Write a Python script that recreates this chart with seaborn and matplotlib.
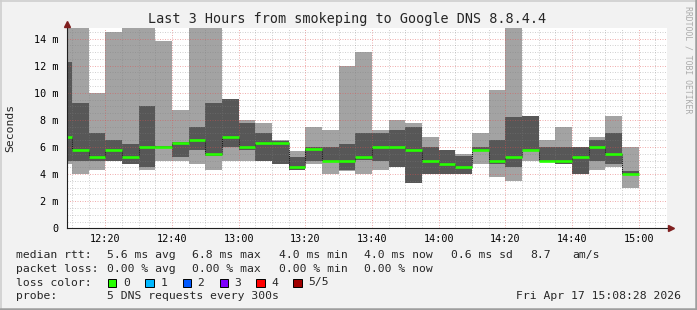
import numpy as np
import pandas as pd
import matplotlib
matplotlib.use("Agg")
import matplotlib.pyplot as plt
import seaborn as sns
from matplotlib.ticker import MultipleLocator, FuncFormatter
from matplotlib.patches import Rectangle
from matplotlib.lines import Line2D

# ---------------- data (milliseconds) ----------------
bar_end_times = ["12:10", "12:15", "12:20", "12:25", "12:30", "12:35", "12:40",
                 "12:45", "12:50", "12:55", "13:00", "13:05", "13:10", "13:15",
                 "13:20", "13:25", "13:30", "13:35", "13:40", "13:45", "13:50",
                 "13:55", "14:00", "14:05", "14:10", "14:15", "14:20", "14:25",
                 "14:30", "14:35", "14:40", "14:45", "14:50", "14:55", "15:00"]
ping_min = [4.76, 4.02, 4.27, 4.95, 4.75, 4.27, 5.00, 4.99, 4.76, 4.27, 5.00, 5.00,
            4.95, 4.75, 4.28, 4.76, 4.02, 4.25, 4.02, 4.27, 4.54, 3.31, 4.00, 4.00,
            4.00, 4.76, 3.75, 3.50, 5.00, 4.93, 4.75, 3.98, 4.27, 4.56, 3.01]
ping_low = [5.00, 5.00, 5.00, 5.00, 4.77, 4.56, 5.95, 5.27, 5.79, 5.37, 6.01, 5.79,
            5.00, 4.77, 4.30, 5.00, 4.95, 4.27, 5.05, 5.00, 4.56, 3.33, 4.02, 4.02,
            4.02, 5.78, 4.76, 4.56, 5.79, 4.95, 4.76, 4.02, 5.00, 4.76, 3.98]
ping_median = [6.77, 5.80, 5.27, 5.80, 5.27, 6.01, 6.02, 6.26, 6.55, 5.52, 6.75, 6.01,
               6.26, 6.33, 4.56, 5.84, 5.00, 5.00, 5.28, 6.01, 6.01, 5.81, 5.00, 4.76,
               4.55, 5.81, 5.00, 5.27, 5.81, 5.00, 5.00, 5.27, 6.01, 5.52, 4.04]
ping_high = [12.28, 9.24, 7.05, 6.52, 6.22, 9.01, 6.06, 6.34, 7.48, 9.24, 9.53, 7.80,
             7.03, 6.42, 5.25, 6.00, 6.00, 6.23, 7.05, 7.05, 7.24, 7.49, 6.01, 5.77,
             5.30, 6.01, 6.53, 8.23, 8.27, 6.01, 6.01, 6.01, 6.51, 7.04, 4.20]
ping_max = [15.5, 15.5, 10.00, 14.49, 15.5, 15.5, 13.83, 8.72, 15.5, 15.5, 9.53, 8.00,
            7.75, 6.52, 5.71, 7.49, 7.25, 12.00, 13.02, 7.25, 7.98, 7.78, 6.75, 5.79,
            5.50, 7.05, 10.19, 15.5, 8.28, 6.51, 7.49, 6.02, 6.75, 8.28, 6.01]

y_tick_values = [0, 2, 4, 6, 8, 10, 12, 14]
x_tick_labels = ["12:20", "12:40", "13:00", "13:20", "13:40", "14:00", "14:20", "14:40", "15:00"]

title = "Last 3 Hours from smokeping to Google DNS 8.8.4.4"
legend_rtt = ["median rtt:", "5.6 ms avg", "6.8 ms max", "4.0 ms min", "4.0 ms now", "0.6 ms sd", "8.7", "am/s"]
legend_loss = ["packet loss:", "0.00 % avg", "0.00 % max", "0.00 % min", "0.00 % now"]
loss_labels = ["0", "1", "2", "3", "4", "5/5"]
loss_colors = ["#26ff00", "#00b8ff", "#0059ff", "#7e00ff", "#ff0000", "#a00000"]
probe_text = "5 DNS requests every 300s"
stamp_text = "Fri Apr 17 15:08:28 2026"
start_time, end_time = "12:08:28", "15:08:28"

# ---------------- helpers ----------------
def to_min(s):
    parts = [int(p) for p in s.split(":")]
    while len(parts) < 3:
        parts.append(0)
    return parts[0] * 60 + parts[1] + parts[2] / 60.0

df = pd.DataFrame({
    "end": [to_min(s) for s in bar_end_times],
    "pmin": ping_min, "plow": ping_low, "pmed": ping_median,
    "phigh": ping_high, "pmax": ping_max,
})
df["start"] = df["end"] - 5

W, H = 697, 310
LIGHT = "#a3a3a3"
DARK = "#575757"
GREEN = "#26ff00"
MONO = ["DejaVu Sans Mono"]

sns.set_theme(style="white")
plt.rcParams["font.family"] = MONO

fig = plt.figure(figsize=(W / 100, H / 100), dpi=100, facecolor="#f2f2f2")
ax_left, ax_right, ax_top, ax_bottom = 67, 667, 28, 228.3
ax = fig.add_axes([ax_left / W, (H - ax_bottom) / H, (ax_right - ax_left) / W, (ax_bottom - ax_top) / H])
ax.set_facecolor("white")

# smoke
ax.bar(df["start"], df["pmax"] - df["pmin"], bottom=df["pmin"], width=5, align="edge",
       color=LIGHT, linewidth=0, antialiased=False, zorder=1)
ax.bar(df["start"], df["phigh"] - df["plow"], bottom=df["plow"], width=5, align="edge",
       color=DARK, linewidth=0, antialiased=False, zorder=1.1)

# median: dotted dark connectors + green steps
conn = pd.DataFrame({"x": df["end"].iloc[:-1].values,
                     "y0": df["pmed"].iloc[:-1].values,
                     "y1": df["pmed"].iloc[1:].values})
ax.vlines(conn["x"], conn["y0"], conn["y1"], colors="#1a1a1a",
          linestyles=(0, (1, 1)), linewidth=0.75, zorder=3)
ax.hlines(df["pmed"], df["start"], df["end"], colors=GREEN, linewidth=1.9, zorder=4)

t0, t1 = to_min(start_time), to_min(end_time)
ax.set_xlim(t0, t1)
ax.set_ylim(0, (ax_bottom - ax_top) / 13.55)

ax.xaxis.set_major_locator(MultipleLocator(20))
ax.xaxis.set_minor_locator(MultipleLocator(5))
ax.yaxis.set_major_locator(MultipleLocator(2))
ax.yaxis.set_minor_locator(MultipleLocator(0.5))
ax.xaxis.set_major_formatter(FuncFormatter(lambda v, p: f"{int(v // 60):02d}:{int(round(v % 60)):02d}"))
ax.yaxis.set_major_formatter(FuncFormatter(lambda v, p: "0" if abs(v) < 1e-9 else f"{int(round(v))} m"))

ax.set_xticks([to_min(s) for s in x_tick_labels])
ax.set_yticks(y_tick_values)

ax.set_axisbelow(False)
ax.grid(which="minor", color=(0.5, 0.5, 0.5), alpha=0.35, linestyle=(0, (1, 1.5)), linewidth=0.72)
ax.grid(which="major", color=(0.87, 0.31, 0.31), alpha=0.45, linestyle=(0, (1, 1.5)), linewidth=0.72)
for tk in (ax.xaxis.get_minor_ticks() + ax.yaxis.get_minor_ticks()
           + ax.xaxis.get_major_ticks() + ax.yaxis.get_major_ticks()):
    tk.gridline.set_zorder(2.5)

for s in ["top", "right"]:
    ax.spines[s].set_visible(False)
for s in ["left", "bottom"]:
    ax.spines[s].set_color("#1f1f1f")
    ax.spines[s].set_linewidth(0.8)
    ax.spines[s].set_zorder(5)

ax.tick_params(which="major", direction="out", length=2.2, width=0.7, color="#1f1f1f",
               labelsize=7.3, labelcolor="black")
ax.tick_params(which="minor", direction="out", length=1.5, width=0.6, color="#555555")
ax.tick_params(axis="y", which="major", pad=4.0)
ax.tick_params(axis="x", which="major", pad=1.6)

# arrows on axes
ax.plot([1.006], [0], marker=">", markersize=4.2, color="#801f1f", transform=ax.transAxes,
        clip_on=False, zorder=6)
ax.plot([0], [1.022], marker="^", markersize=4.2, color="#801f1f", transform=ax.transAxes,
        clip_on=False, zorder=6)

def fx(px):
    return px / W

def fy(py):
    return 1 - py / H

# title & labels
fig.text(fx(347.5), fy(19.3), title, ha="center", va="center", fontsize=9.75, family=MONO)
fig.text(fx(10), fy(128), "Seconds", rotation=90, ha="center", va="center", fontsize=8.2, family=MONO)
fig.text(fx(688), fy(60), "RRDTOOL / TOBI OETIKER", rotation=270, ha="center", va="center",
         fontsize=5.9, color="#ababab", family=MONO)

# legend lines
rtt_x = [16.4, 107.1, 192.4, 279.1, 364.4, 451.1, 530.2, 572.4]
for txt, x in zip(legend_rtt, rtt_x):
    fig.text(fx(x), fy(255), txt, ha="left", va="center", fontsize=8.2, family=MONO)
loss_x = [16.4, 107.1, 192.4, 279.1, 364.4]
for txt, x in zip(legend_loss, loss_x):
    fig.text(fx(x), fy(268.5), txt, ha="left", va="center", fontsize=8.2, family=MONO)
fig.text(fx(16.4), fy(282.5), "loss color:", ha="left", va="center", fontsize=8.2, family=MONO)
box_x = [108.0, 145.3, 182.7, 219.6, 256.4, 293.3]
lab_x = [123.6, 161.0, 197.0, 234.0, 271.0, 308.4]
for lab, col, bx, lx in zip(loss_labels, loss_colors, box_x, lab_x):
    fig.add_artist(Rectangle((fx(bx), fy(286.7)), 8.4 / W, 8.0 / H, transform=fig.transFigure,
                             facecolor=col, edgecolor="black", linewidth=0.7))
    fig.text(fx(lx), fy(282.5), lab, ha="left", va="center", fontsize=8.2, family=MONO)
fig.text(fx(16.4), fy(296), "probe:", ha="left", va="center", fontsize=8.2, family=MONO)
fig.text(fx(107.1), fy(296), probe_text, ha="left", va="center", fontsize=8.2, family=MONO)
fig.text(fx(680.5), fy(296), stamp_text, ha="right", va="center", fontsize=8.2, family=MONO)

# 3D frame around image
fig.add_artist(Line2D([0, 1], [fy(0.5), fy(0.5)], transform=fig.transFigure, color="#cfcfcf", linewidth=1.2))
fig.add_artist(Line2D([fx(0.5), fx(0.5)], [0, 1], transform=fig.transFigure, color="#cfcfcf", linewidth=1.2))
fig.add_artist(Line2D([0, 1], [fy(308.8), fy(308.8)], transform=fig.transFigure, color="#9e9e9e", linewidth=1.8))
fig.add_artist(Line2D([fx(695.8), fx(695.8)], [0, 1], transform=fig.transFigure, color="#9e9e9e", linewidth=1.8))

fig.savefig("out.png", dpi=100, facecolor=fig.get_facecolor())
